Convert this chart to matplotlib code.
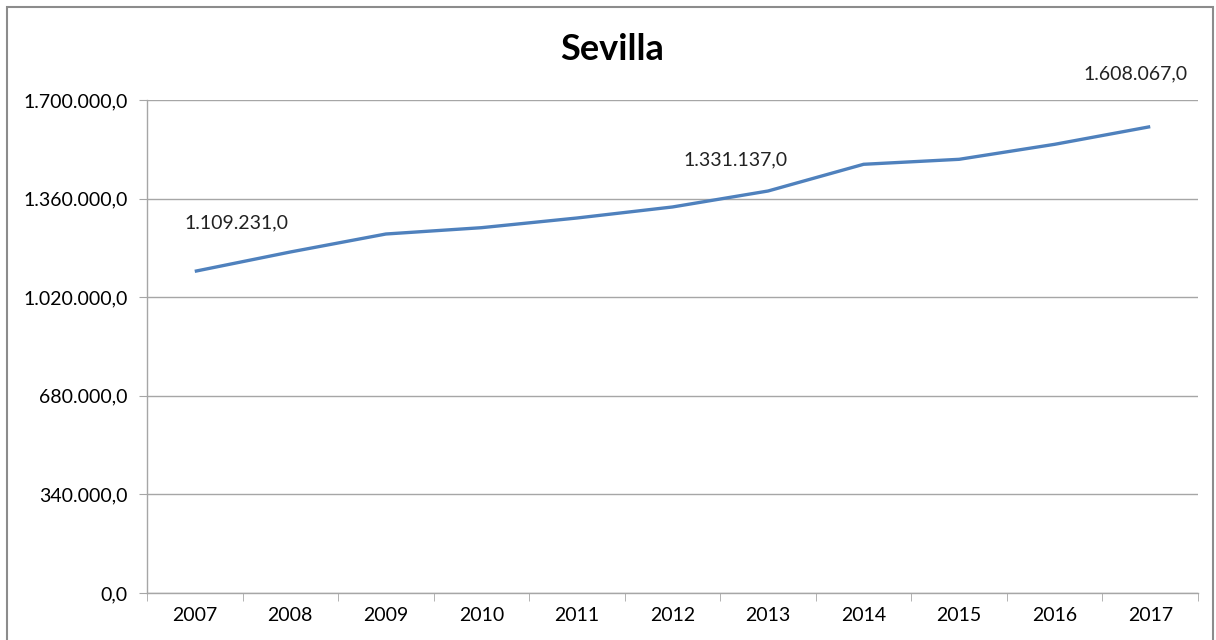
import numpy as np
import matplotlib.pyplot as plt
from matplotlib.patches import Rectangle
from matplotlib.ticker import FixedLocator, FuncFormatter

plt.rcParams["font.family"] = ["Lato", "DejaVu Sans"]

years = ["2007", "2008", "2009", "2010", "2011", "2012",
         "2013", "2014", "2015", "2016", "2017"]
values = [1109231.0, 1175900.0, 1237900.0, 1259700.0, 1293100.0, 1331137.0,
          1386200.0, 1478300.0, 1495500.0, 1547200.0, 1608067.0]
yticks = [0, 340000, 680000, 1020000, 1360000, 1700000]
labelled = {0: (0.44, 48), 5: (0.66, 47), 10: (-0.15, 53)}  # index -> (dx, dy in px)


def es_fmt(v, pos=None):
    s = "{:,.1f}".format(v)
    return s.replace(",", "X").replace(".", ",").replace("X", ".")


fig = plt.figure(figsize=(12.16, 6.4), dpi=100)
ax = fig.add_axes([147/1216, 1 - 593/640, (1198 - 147)/1216, (593 - 100)/640])

x = np.arange(len(years))
ax.plot(x, values, color="#4F81BD", lw=2.4, solid_capstyle="butt", zorder=3)

for i, (dx, dy) in labelled.items():
    ax.annotate(es_fmt(values[i]), (x[i] + dx, values[i]), xytext=(0, dy),
                textcoords="offset pixels", ha="center", va="center",
                fontsize=14, color="#222222")

ax.set_xlim(-0.5, len(years) - 0.5)
ax.set_ylim(0, 1700000)
ax.set_yticks(yticks)
ax.yaxis.set_major_formatter(FuncFormatter(es_fmt))
ax.set_xticks(x)
ax.set_xticklabels(years)
ax.xaxis.set_minor_locator(FixedLocator(np.arange(-0.5, len(years), 1.0)))
ax.tick_params(axis="x", which="major", length=0, pad=10, labelsize=14)
ax.tick_params(axis="x", which="minor", length=6, color="#a6a6a6", direction="out")
ax.tick_params(axis="y", length=6, color="#a6a6a6", pad=8, labelsize=14)
ax.grid(axis="y", color="#a6a6a6", lw=1)
ax.set_axisbelow(True)
for s in ["top", "right"]:
    ax.spines[s].set_visible(False)
for s in ["left", "bottom"]:
    ax.spines[s].set_color("#a6a6a6")
    ax.spines[s].set_linewidth(1)

fig.text(612/1216, 1 - 50/640, "Sevilla", ha="center", va="center",
         fontsize=26, fontweight="bold")

fig.patches.append(Rectangle((7/1216, -0.05), 1206/1216, 1.05 - 7/640,
                             transform=fig.transFigure, fill=False,
                             edgecolor="#8c8c8c", lw=1.5))

fig.savefig("out.png", dpi=100)
